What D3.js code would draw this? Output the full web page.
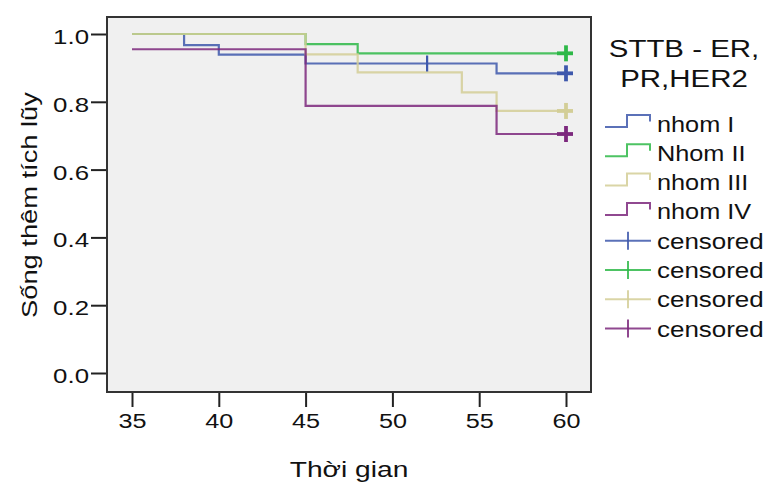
<!DOCTYPE html>
<html>
<head>
<meta charset="utf-8">
<script src="https://cdn.jsdelivr.net/npm/d3@7"></script>
<style>
  body { margin: 0; background: #fff; }
  text { font-family: "Liberation Sans", Arial, sans-serif; fill: #111; }
</style>
</head>
<body>
<svg id="chart" width="767" height="482"></svg>
<script>
// Kaplan-Meier step data
const groups = ['nhom I', 'Nhom II', 'nhom III', 'nhom IV'];
const colors = ['#3E58AC', '#2EB848', '#D3CE97', '#7C287D'];

const timesI = [35, 38, 40, 45, 56, 60];
const survI = [1.0, 0.967, 0.939, 0.913, 0.884, 0.884];
const timesII = [35, 45, 48, 60];
const survII = [1.0, 0.97, 0.943, 0.943];
const timesIII = [35, 45, 48, 54, 56, 60];
const survIII = [1.0, 0.94, 0.887, 0.828, 0.773, 0.773];
const timesIV = [35, 45, 56, 60];
const survIV = [0.955, 0.788, 0.705, 0.705];

// censored times and how many patients at each
const censorTimesI = [52, 60];
const censorCountsI = [1, 3];
const censorTimesII = [60];
const censorCountsII = [3];
const censorTimesIII = [60];
const censorCountsIII = [3];
const censorTimesIV = [60];
const censorCountsIV = [3];

const xTicks = [35, 40, 45, 50, 55, 60];
const yTicks = [0, 0.2, 0.4, 0.6, 0.8, 1.0];
const legendTitle = ['STTB - ER,', 'PR,HER2'];
const xTitle = 'Thời gian';
const yTitle = 'Sống thêm tích lũy';

const series = [
  { times: timesI, surv: survI, ct: censorTimesI, cn: censorCountsI },
  { times: timesII, surv: survII, ct: censorTimesII, cn: censorCountsII },
  { times: timesIII, surv: survIII, ct: censorTimesIII, cn: censorCountsIII },
  { times: timesIV, surv: survIV, ct: censorTimesIV, cn: censorCountsIV }
];

const svg = d3.select('#chart');
const frame = { left: 107, top: 17, right: 591, bottom: 392 };
const stretch = 1.25; // the text in the picture is drawn a bit wide

const xScale = d3.scaleLinear().domain([35, 60]).range([132, 566]);
const yScale = d3.scaleLinear().domain([0, 1]).range([373, 34]);

// text helper: places a horizontally widened label
function label(g, x, y, str, size, anchor, rotate, k) {
  return g.append('text')
    .attr('transform', `translate(${x},${y}) rotate(${rotate || 0}) scale(${k || stretch},1)`)
    .attr('text-anchor', anchor || 'start')
    .style('font-size', size + 'px')
    .text(str);
}

svg.append('rect')
  .attr('x', frame.left)
  .attr('y', frame.top)
  .attr('width', frame.right - frame.left)
  .attr('height', frame.bottom - frame.top)
  .attr('fill', '#f0f0f0');

// axes: ticks only, frame draws the lines
const yAxis = d3.axisLeft(yScale).tickValues(yTicks).tickSize(16).tickSizeOuter(0).tickFormat(d3.format('.1f'));
const xAxis = d3.axisBottom(xScale).tickValues(xTicks).tickSize(15).tickSizeOuter(0).tickFormat(d3.format('d'));

const gy = svg.append('g').attr('transform', `translate(${frame.left},0)`).call(yAxis);
const gx = svg.append('g').attr('transform', `translate(0,${frame.bottom})`).call(xAxis);

[gx, gy].forEach(g => {
  g.select('.domain').remove();
  g.selectAll('.tick line').attr('stroke', '#222').attr('stroke-width', 2);
  g.selectAll('.tick text').remove();
});

gy.selectAll('.tick').each(function(d) {
  label(d3.select(this), -18, 9.5, d3.format('.1f')(d), 21, 'end', 0, 1.23);
});
gx.selectAll('.tick').each(function(d) {
  label(d3.select(this), 0, 36, d, 21, 'middle', 0, 1.2);
});

// curves
const line = d3.line()
  .x((d) => xScale(d[0]))
  .y((d) => yScale(d[1]))
  .curve(d3.curveStepAfter);

series.forEach((s, i) => {
  const pts = s.times.map((t, j) => [t, s.surv[j]]);
  svg.append('path')
    .datum(pts)
    .attr('fill', 'none')
    .attr('stroke', colors[i])
    .attr('stroke-opacity', 0.85)
    .attr('stroke-width', 2.2)
    .attr('d', line);
});

// censor marks
series.forEach((s, i) => {
  s.ct.forEach((t, j) => {
    const idx = d3.bisectRight(s.times, t) - 1;
    const cx = xScale(t);
    const cy = yScale(s.surv[Math.max(idx, 0)]);
    const w = s.cn[j] > 1 ? 3.8 : 2.2;
    const g = svg.append('g').attr('stroke', colors[i]).attr('stroke-width', w);
    g.append('line').attr('x1', cx).attr('x2', cx).attr('y1', cy - 8).attr('y2', cy + 8);
    g.append('line').attr('x1', cx - (s.cn[j] > 1 ? 9 : 0)).attr('x2', cx + (s.cn[j] > 1 ? 7 : 0))
      .attr('y1', cy).attr('y2', cy);
  });
});

svg.append('rect')
  .attr('x', frame.left)
  .attr('y', frame.top)
  .attr('width', frame.right - frame.left)
  .attr('height', frame.bottom - frame.top)
  .attr('fill', 'none')
  .attr('stroke', '#333')
  .attr('stroke-width', 2);

// axis titles
label(svg, (frame.left + frame.right) / 2, 477, xTitle, 22, 'middle', 0, 1.28);
label(svg, 37, 205, yTitle, 22, 'middle', -90, 1.24);

// legend
const lg = svg.append('g');
legendTitle.forEach((t, i) => {
  label(lg, 684, 57 + i * 30, t, 23, 'middle', 0, 1.28);
});

const rowH = 29.3;
const base0 = 131.5;
groups.forEach((name, i) => {
  const b = base0 + i * rowH;
  lg.append('path')
    .attr('d', `M605,${b - 4.5}H627V${b - 16.5}H650V${b - 10}`)
    .attr('fill', 'none')
    .attr('stroke', colors[i])
    .attr('stroke-opacity', 0.85)
    .attr('stroke-width', 2);
  label(lg, 657, b, name, 22, 'start', 0, 1.15);
});
colors.forEach((c, i) => {
  const b = base0 + (i + 4) * rowH;
  const g = lg.append('g').attr('stroke', c).attr('stroke-opacity', 0.85).attr('stroke-width', 2);
  g.append('line').attr('x1', 605).attr('x2', 651).attr('y1', b - 8).attr('y2', b - 8);
  g.append('line').attr('x1', 628).attr('x2', 628).attr('y1', b - 17).attr('y2', b + 1);
  label(lg, 657, b, 'censored', 22, 'start', 0, 1.18);
});
</script>
</body>
</html>
